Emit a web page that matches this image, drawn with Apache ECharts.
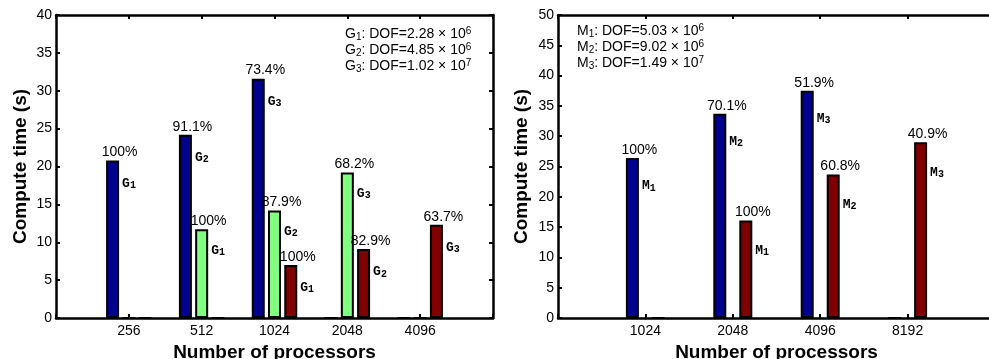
<!DOCTYPE html>
<html>
<head>
<meta charset="utf-8">
<script src="https://cdn.jsdelivr.net/npm/echarts@6/dist/echarts.min.js"></script>
<style>
html,body{margin:0;padding:0;background:#fff;}
#c{width:989px;height:359px;}
</style>
</head>
<body>
<div id="c"></div>
<script>
// ---------- data ----------
const procLeft = ['256', '512', '1024', '2048', '4096'];
const blueLeft = [20.8, 24.2, 31.6, 0, 0];
const greenLeft = [0, 11.7, 14.2, 19.2, 0];
const redLeft = [0, 0, 7.0, 9.1, 12.3];
const bluePctLeft = ['100%', '91.1%', '73.4%', '', ''];
const greenPctLeft = ['', '100%', '87.9%', '68.2%', ''];
const redPctLeft = ['', '', '100%', '82.9%', '63.7%'];
const blueTagLeft = ['G1', 'G2', 'G3', '', ''];
const greenTagLeft = ['', 'G1', 'G2', 'G3', ''];
const redTagLeft = ['', '', 'G1', 'G2', 'G3'];

const procRight = ['1024', '2048', '4096', '8192'];
const blueRight = [26.4, 33.7, 37.5, 0];
const redRight = [0, 16.1, 23.7, 29.0];
const bluePctRight = ['100%', '70.1%', '51.9%', ''];
const redPctRight = ['', '100%', '60.8%', '40.9%'];
const blueTagRight = ['M1', 'M2', 'M3', ''];
const redTagRight = ['', 'M1', 'M2', 'M3'];

const legendLeft = [['G', '1', '2.28', '6'], ['G', '2', '4.85', '6'], ['G', '3', '1.02', '7']];
const legendRight = [['M', '1', '5.03', '6'], ['M', '2', '9.02', '6'], ['M', '3', '1.49', '7']];

// ---------- styling ----------
const FONT = 'Liberation Sans';
const C_BLUE = '#00008F', C_GREEN = '#80FF80', C_RED = '#800000';

const padCats = a => ['', ...a, ''];
const padData = a => ['-', ...a, '-'];

function xAxes(cats, gridIndex) {
  const base = {
    type: 'category', gridIndex, data: padCats(cats), boundaryGap: false,
    axisLine: { show: true, onZero: false, lineStyle: { color: '#000', width: 2.5 } },
    axisTick: { show: true, inside: true, length: 4, lineStyle: { color: '#000', width: 2 } },
    splitLine: { show: false }
  };
  return [
    Object.assign({}, base, {
      position: 'bottom',
      axisLabel: { show: true, color: '#000', fontFamily: FONT, fontSize: 14, margin: 6 },
      name: 'Number of processors', nameLocation: 'middle', nameGap: 20,
      nameTextStyle: { color: '#000', fontFamily: FONT, fontSize: 19, fontWeight: 'bold' }
    }),
    Object.assign({}, base, { position: 'top', axisLabel: { show: false } })
  ];
}
function yAxes(max, gridIndex, gap) {
  const base = {
    type: 'value', gridIndex, min: 0, max, interval: 5,
    axisLine: { show: true, onZero: false, lineStyle: { color: '#000', width: 2.5 } },
    axisTick: { show: true, inside: true, length: 4, lineStyle: { color: '#000', width: 2 } },
    splitLine: { show: false }
  };
  return [
    Object.assign({}, base, {
      position: 'left',
      axisLabel: { show: true, color: '#000', fontFamily: FONT, fontSize: 14, margin: 4 },
      name: 'Compute time (s)', nameLocation: 'middle', nameGap: gap, nameRotate: 90,
      nameTextStyle: { color: '#000', fontFamily: FONT, fontSize: 19, fontWeight: 'bold' }
    }),
    Object.assign({}, base, { position: 'right', axisLabel: { show: false } })
  ];
}

const tagRich = {
  t: { fontFamily: 'Liberation Mono', fontWeight: 'bold', fontSize: 13, color: '#000', lineHeight: 14, verticalAlign: 'middle' },
  s: { fontFamily: 'Liberation Mono', fontWeight: 'bold', fontSize: 10, color: '#000', lineHeight: 11, verticalAlign: 'bottom' }
};

function group(xi, yi, values, pcts, tags, color, stackId, gap, tagDy) {
  const main = {
    type: 'bar', xAxisIndex: xi, yAxisIndex: yi, stack: stackId,
    data: padData(values), barWidth: 13, barGap: gap,
    itemStyle: { color, borderColor: '#000', borderWidth: 2 },
    label: {
      show: true, position: 'top', distance: 1, offset: [7, 0],
      color: '#000', fontFamily: FONT, fontSize: 14,
      formatter: p => pcts[p.dataIndex - 1] || ''
    },
    silent: true
  };
  const tag = {
    type: 'bar', xAxisIndex: xi, yAxisIndex: yi, stack: stackId,
    data: padData(values.map((v, i) => tags[i] ? 0 : '-')), barWidth: 13, barGap: gap,
    itemStyle: { color: 'rgba(0,0,0,0)', borderWidth: 0 },
    label: {
      show: true, position: 'right', distance: 0, offset: [3, tagDy],
      formatter: p => {
        const t = tags[p.dataIndex - 1];
        return t ? '{t|' + t[0] + '}{s|' + t.slice(1) + '}' : '';
      },
      rich: tagRich
    },
    silent: true
  };
  return [main, tag];
}

function legendText(lines, x, y) {
  const rich = {
    n: { fontFamily: FONT, fontSize: 14, color: '#000', lineHeight: 16, verticalAlign: 'middle' },
    s: { fontFamily: FONT, fontSize: 10, color: '#000', lineHeight: 7, verticalAlign: 'bottom' },
    p: { fontFamily: FONT, fontSize: 10, color: '#000', lineHeight: 8, verticalAlign: 'top' }
  };
  const text = lines.map(l => '{n|' + l[0] + '}{s|' + l[1] + '}{n|: DOF=' + l[2] + ' \u00d7 10}{p|' + l[3] + '}').join('\n');
  return { type: 'text', left: x, top: y, style: { text, rich, fill: '#000' }, silent: true };
}

const option = {
  animation: false,
  backgroundColor: '#fff',
  grid: [
    { left: 56, top: 15, width: 437, height: 303, containLabel: false, outerBoundsMode: 'none' },
    { left: 558, top: 15, width: 437, height: 303, containLabel: false, outerBoundsMode: 'none' }
  ],
  xAxis: [...xAxes(procLeft, 0), ...xAxes(procRight, 1)],
  yAxis: [...yAxes(40, 0, 26), ...yAxes(50, 1, 27)],
  series: [
    ...group(0, 0, blueLeft, bluePctLeft, blueTagLeft, C_BLUE, 'lb', '25%', 23),
    ...group(0, 0, greenLeft, greenPctLeft, greenTagLeft, C_GREEN, 'lg', '25%', 21),
    ...group(0, 0, redLeft, redPctLeft, redTagLeft, C_RED, 'lr', '25%', 23),
    ...group(2, 2, blueRight, bluePctRight, blueTagRight, C_BLUE, 'rb', '100%', 28),
    ...group(2, 2, redRight, redPctRight, redTagRight, C_RED, 'rr', '100%', 30)
  ],
  graphic: [legendText(legendLeft, 345, 26), legendText(legendRight, 577, 23)]
};

const chart = echarts.init(document.getElementById('c'), null, { renderer: 'canvas' });
chart.setOption(option);
</script>
</body>
</html>
